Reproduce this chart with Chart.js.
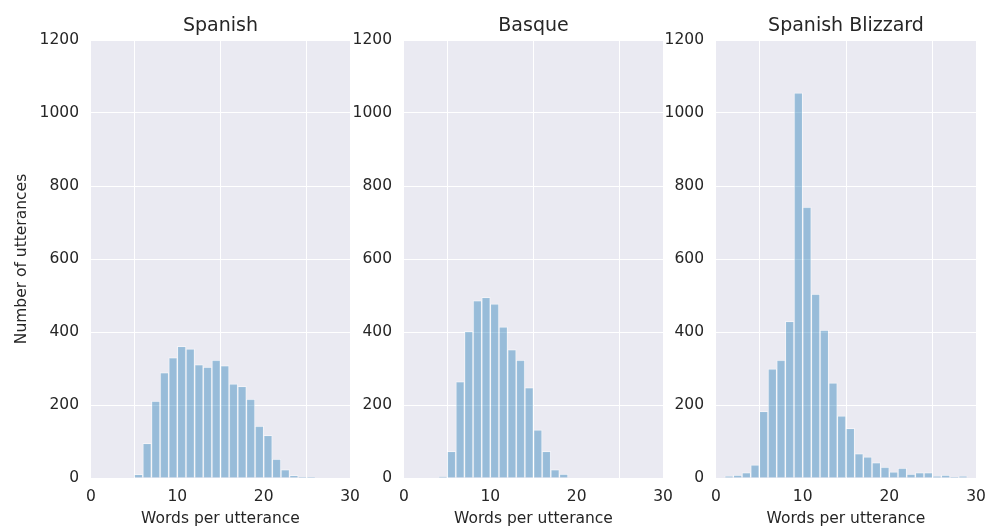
<!DOCTYPE html>
<html>
<head>
<meta charset="utf-8">
<script src="https://cdn.jsdelivr.net/npm/chart.js@4.4.0/dist/chart.umd.min.js"></script>
<style>
  html, body { margin: 0; padding: 0; background: #ffffff; }
  #wrap { position: relative; width: 988px; height: 529px; overflow: hidden; }
  canvas { position: absolute; top: 0; }
</style>
</head>
<body>
<div id="wrap">
  <canvas id="c1" width="362" height="529" style="left:0px"></canvas>
  <canvas id="c2" width="335" height="529" style="left:340px"></canvas>
  <canvas id="c3" width="336" height="529" style="left:652px"></canvas>
</div>
<script>
// bin lower edges (words per utterance) and counts
const spanishBins = [5, 6, 7, 8, 9, 10, 11, 12, 13, 14, 15, 16, 17, 18, 19, 20, 21, 22, 23, 24, 25];
const spanishCounts = [10, 95, 211, 289, 330, 361, 354, 311, 304, 323, 308, 258, 251, 216, 142, 117, 52, 23, 7, 2, 1];

const basqueBins = [4, 5, 6, 7, 8, 9, 10, 11, 12, 13, 14, 15, 16, 17, 18];
const basqueCounts = [3, 73, 264, 402, 486, 495, 477, 414, 352, 323, 248, 132, 73, 23, 11];

const blizzardBins = [1, 2, 3, 4, 5, 6, 7, 8, 9, 10, 11, 12, 13, 14, 15, 16, 17, 18, 19, 20, 21, 22, 23, 24, 25, 26, 27, 28];
const blizzardCounts = [5, 8, 15, 36, 183, 299, 323, 429, 1055, 742, 504, 405, 261, 170, 136, 67, 58, 42, 30, 17, 27, 11, 15, 15, 5, 8, 1, 5];

const panelTitles = ['Spanish', 'Basque', 'Spanish Blizzard'];
const xLabel = 'Words per utterance';
const yLabel = 'Number of utterances';

const TEXT = '#262626';
const FONT = 'DejaVu Sans';

// plot background + titles drawn around the chart area
const panelPlugin = {
  id: 'panel',
  beforeDraw(chart) {
    const { ctx, chartArea: a } = chart;
    ctx.save();
    ctx.fillStyle = '#eaeaf2';
    ctx.fillRect(a.left, a.top, a.right - a.left, a.bottom - a.top);
    ctx.restore();
  },
  afterDraw(chart, args, opts) {
    const { ctx, chartArea: a } = chart;
    const cx = (a.left + a.right) / 2;
    ctx.save();
    ctx.fillStyle = TEXT;
    ctx.textAlign = 'center';
    ctx.textBaseline = 'alphabetic';
    ctx.font = `19px "${FONT}"`;
    ctx.fillText(opts.title, cx, 31);
    ctx.font = `15.5px "${FONT}"`;
    ctx.fillText(xLabel, cx, 523);
    if (opts.showY) {
      ctx.translate(22, (a.top + a.bottom) / 2);
      ctx.rotate(-Math.PI / 2);
      ctx.textBaseline = 'middle';
      ctx.fillText(yLabel, 0, 0);
    }
    ctx.restore();
  }
};

function makeHist(id, bins, counts, title, yAxisWidth, showY) {
  const pts = bins.map((b, i) => ({ x: b + 0.5, y: counts[i] }));
  return new Chart(document.getElementById(id), {
    type: 'bar',
    data: {
      datasets: [{
        data: pts,
        backgroundColor: 'rgba(31,119,180,0.4)',
        borderColor: 'rgba(255,255,255,0.45)',
        borderWidth: 1,
        barPercentage: 1,
        categoryPercentage: 1,
        grouped: false
      }]
    },
    options: {
      responsive: false,
      animation: false,
      layout: { padding: { left: 0, right: 12, top: 40, bottom: 0 } },
      plugins: {
        legend: { display: false },
        tooltip: { enabled: false },
        panel: { title, showY }
      },
      scales: {
        x: {
          type: 'linear',
          min: 0,
          max: 30,
          offset: false,
          ticks: { stepSize: 10, color: TEXT, padding: 10, font: { family: FONT, size: 15.5 }, maxRotation: 0,
                   callback: v => String(v) },
          grid: { color: '#ffffff', lineWidth: 1, drawTicks: false },
          border: { display: false },
          afterFit: s => { s.height = 51; s.paddingLeft = 0; s.paddingRight = 0; }
        },
        y: {
          min: 0,
          max: 1200,
          ticks: { stepSize: 200, color: TEXT, padding: 12, font: { family: FONT, size: 15.5 },
                   callback: v => String(v) },
          grid: { color: '#ffffff', lineWidth: 1, drawTicks: false },
          border: { display: false },
          afterFit: s => { s.width = yAxisWidth; s.paddingTop = 0; s.paddingBottom = 0; }
        }
      }
    },
    plugins: [panelPlugin]
  });
}

makeHist('c1', spanishBins, spanishCounts, panelTitles[0], 91, true);
makeHist('c2', basqueBins, basqueCounts, panelTitles[1], 64, false);
makeHist('c3', blizzardBins, blizzardCounts, panelTitles[2], 64, false);
</script>
</body>
</html>
